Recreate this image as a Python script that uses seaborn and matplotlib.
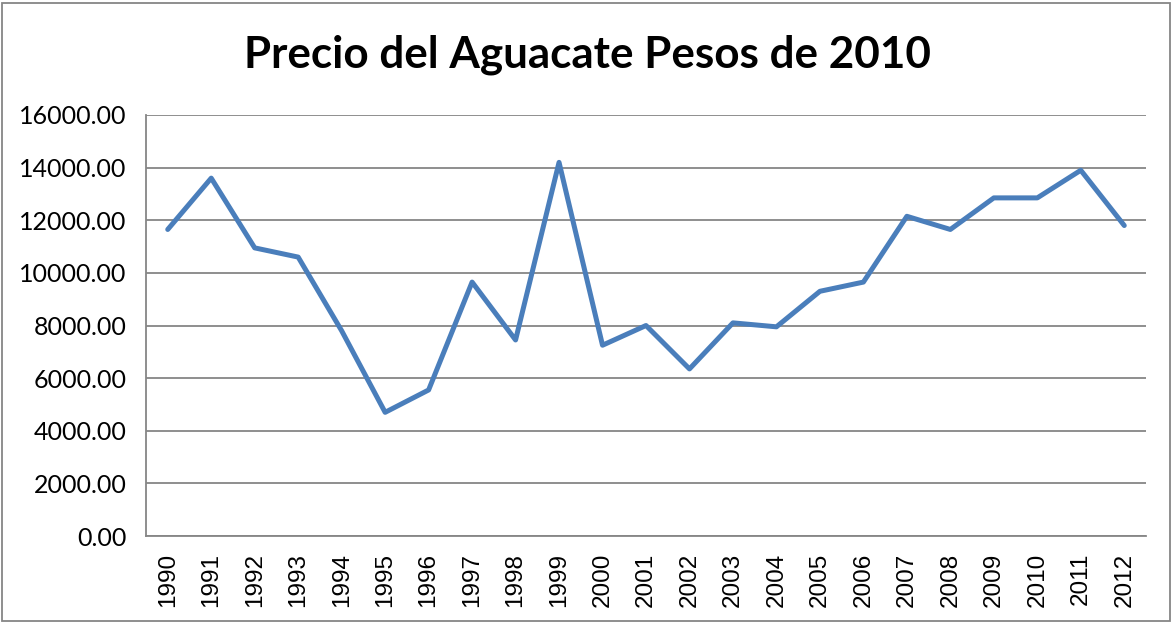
import matplotlib
matplotlib.use("Agg")
import matplotlib.pyplot as plt
import matplotlib.patches as patches
import seaborn as sns
import pandas as pd

# years and price (pesos of 2010)
years = [str(y) for y in range(1990, 2013)]
prices = [11650, 13600, 10950, 10600, 7800, 4700, 5550, 9650, 7450, 14200,
          7250, 8000, 6350, 8100, 7950, 9300, 9650, 12150, 11650, 12850,
          12850, 13900, 11800]
y_ticks = [0, 2000, 4000, 6000, 8000, 10000, 12000, 14000, 16000]

df = pd.DataFrame({"year": years, "price": prices})

sns.set_style("white")
plt.rcParams['font.family'] = ['Lato', 'DejaVu Sans']
plt.rcParams['text.color'] = 'black'
plt.rcParams['xtick.color'] = 'black'
plt.rcParams['ytick.color'] = 'black'

grid_col = "#868686"
line_col = "#4A7EBB"

fig = plt.figure(figsize=(11.74, 6.23), dpi=100)
ax = fig.add_axes([146 / 1174, 1 - 536 / 623, 1000 / 1174, 421 / 623])

sns.lineplot(data=df, x="year", y="price", ax=ax, color=line_col,
             linewidth=3.6, sort=False)

ax.set_xlim(-0.5, len(years) - 0.5)
ax.set_ylim(0, 16000)
ax.set_yticks(y_ticks)
ax.set_yticklabels([f"{v:.2f}" for v in y_ticks], fontsize=18)
ax.yaxis.grid(True, color=grid_col, linewidth=1.3)
ax.set_axisbelow(True)

# category labels centred, tick marks on category borders
ax.set_xticks(range(len(years)))
ax.set_xticklabels(years, rotation=90, fontsize=17.5,
                   family=['Liberation Sans', 'DejaVu Sans'])
ax.tick_params(axis='x', which='major', length=0, pad=12)
ax.set_xticks([i - 0.5 for i in range(len(years) + 1)], minor=True)
ax.tick_params(axis='x', which='minor', length=6, width=1.3, color=grid_col,
               direction='out')
ax.tick_params(axis='y', length=6, width=1.3, color=grid_col, labelcolor='black',
               direction='out', pad=8)

for side in ['top', 'right']:
    ax.spines[side].set_visible(False)
for side in ['left', 'bottom']:
    ax.spines[side].set_color(grid_col)
    ax.spines[side].set_linewidth(1.3)

ax.set_xlabel("")
ax.set_ylabel("")

fig.text(0.5, 1 - 55 / 623, "Precio del Aguacate Pesos de 2010",
         ha='center', va='center', fontsize=31.7, fontweight='bold',
         color='black')

fig.patches.append(patches.Rectangle((2 / 1174, 2 / 623), 1168 / 1174, 618 / 623,
                                     transform=fig.transFigure, fill=False,
                                     edgecolor=grid_col, linewidth=1.3))

fig.savefig("out.png", dpi=100)
